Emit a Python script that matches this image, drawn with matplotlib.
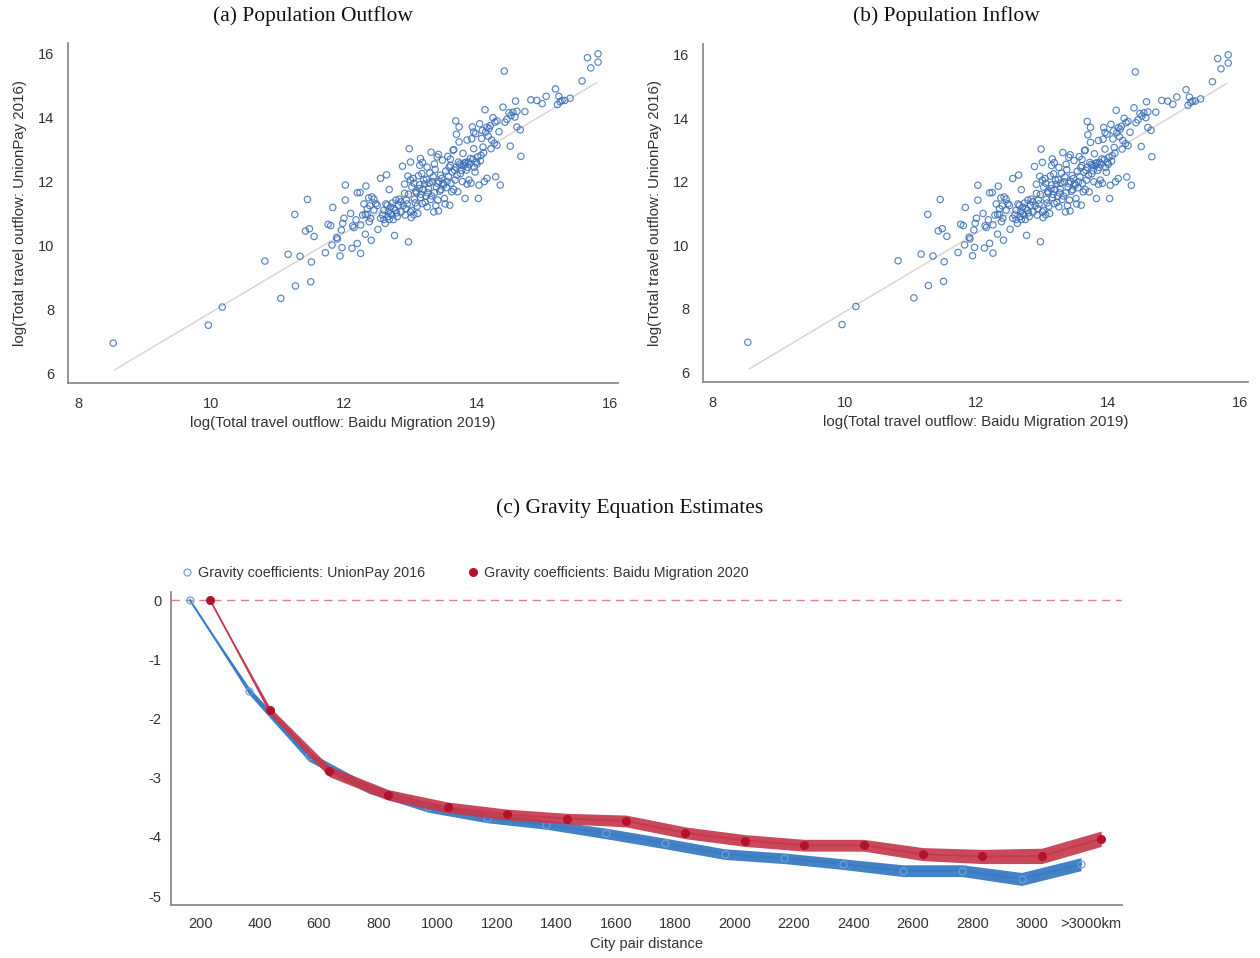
import numpy as np
import matplotlib
matplotlib.use("Agg")
import matplotlib.pyplot as plt
from matplotlib.lines import Line2D

plt.rcParams['font.family'] = ['Liberation Sans', 'DejaVu Sans']

# ---------------- Data: scatter (log travel flows) ----------------
baidu_x = [8.53, 9.96, 10.17, 10.81, 11.05, 11.16, 11.26, 11.27, 11.34, 11.45, 11.42, 11.48, 11.51, 11.50,
           11.55, 11.72, 11.76, 11.80, 11.82, 11.83, 11.89, 11.94, 11.96, 11.98, 11.97, 12.02, 12.02, 12.12,
           12.13, 12.15, 12.20, 12.20, 12.24, 12.25, 12.25, 12.32, 12.33, 12.32, 12.35, 12.37, 12.38, 12.39,
           12.41, 12.42, 12.45, 12.48, 12.51, 12.55, 12.58, 12.60, 12.64, 12.62, 12.65, 12.67, 12.68, 12.68,
           12.70, 12.73, 12.74, 12.75, 12.76, 12.78, 12.79, 12.82, 12.85, 12.88, 12.91, 12.91, 12.93, 12.94,
           12.96, 12.97, 12.98, 13.00, 13.00, 13.01, 13.02, 13.04, 13.05, 13.07, 13.09, 13.10, 13.12, 13.13,
           13.14, 13.15, 13.15, 13.17, 13.18, 13.19, 13.21, 13.23, 13.24, 13.25, 13.27, 13.29, 13.30, 13.31,
           13.33, 13.35, 13.36, 13.37, 13.39, 13.40, 13.41, 13.42, 13.43, 13.45, 13.46, 13.48, 13.49, 13.51,
           13.53, 13.54, 13.56, 13.57, 13.59, 13.60, 13.62, 13.64, 13.66, 13.67, 13.68, 13.69, 13.71, 13.72,
           13.73, 13.73, 13.75, 13.76, 13.78, 13.79, 13.81, 13.82, 13.84, 13.85, 13.87, 13.88, 13.90, 13.92,
           13.93, 13.95, 13.96, 13.98, 13.99, 14.01, 14.02, 14.03, 14.04, 14.06, 14.08, 14.09, 14.11, 14.12,
           14.15, 14.17, 14.18, 14.21, 14.24, 14.26, 14.27, 14.28, 14.30, 14.33, 14.35, 14.39, 14.41, 14.42,
           14.48, 14.50, 14.51, 14.54, 14.57, 14.58, 14.60, 14.65, 14.66, 14.72, 14.81, 14.90, 14.98, 15.04,
           15.18, 15.21, 15.23, 15.25, 15.28, 15.32, 15.40, 15.58, 15.66, 15.71, 15.82, 15.82,
           12.55, 12.60, 12.63, 12.66, 12.70, 12.72, 12.77, 12.80, 12.83, 12.86, 12.89, 12.92, 12.95, 12.97,
           13.02, 13.06, 13.08, 13.11, 13.14, 13.16, 13.20, 13.22, 13.26, 13.28, 13.32, 13.34, 13.38, 13.40,
           13.44, 13.47, 13.50, 13.52, 13.55, 13.58, 13.61, 13.63, 13.65, 13.68, 13.70, 13.74, 13.77, 13.80,
           13.83, 13.86, 13.89, 13.91, 13.94, 13.97, 14.00, 14.05, 14.07, 14.10, 14.13, 14.20, 14.22, 12.35,
           12.40, 12.45, 12.50, 12.28, 12.30, 13.00, 13.05, 13.18, 13.25, 13.36, 13.42, 13.60, 13.65, 13.85,
           13.95, 14.15, 14.30, 14.45, 14.60, 12.10, 12.18, 11.90, 12.00]
unionpay_y = [6.94, 7.50, 8.07, 9.51, 8.34, 9.72, 10.97, 8.73, 9.66, 11.44, 10.45, 10.52, 9.48, 8.86,
              10.28, 9.77, 10.66, 10.62, 10.01, 11.19, 10.25, 9.67, 10.48, 10.69, 9.93, 11.42, 11.89, 9.91,
              10.61, 10.56, 10.06, 11.65, 11.66, 9.75, 10.64, 10.97, 11.86, 10.35, 10.97, 11.49, 10.74, 11.24,
              10.16, 11.52, 11.11, 11.31, 10.50, 12.10, 10.95, 10.81, 12.21, 10.69, 11.26, 11.05, 10.81, 11.75,
              11.00, 11.33, 10.81, 11.15, 10.31, 11.42, 11.02, 11.26, 11.37, 12.48, 11.63, 11.92, 11.15, 11.42,
              12.17, 10.11, 13.03, 12.61, 11.05, 10.87, 11.83, 12.10, 10.96, 11.33, 11.65, 11.23, 12.18, 11.78,
              12.51, 11.50, 12.72, 12.25, 11.31, 11.75, 11.92, 11.54, 12.07, 11.21, 11.78, 12.27, 11.44, 12.92,
              12.00, 11.05, 11.65, 12.38, 11.83, 12.77, 11.42, 11.08, 12.00, 12.20, 11.75, 12.67, 11.95, 11.47,
              12.33, 11.81, 12.79, 12.15, 11.26, 12.51, 11.68, 12.98, 12.36, 12.05, 13.90, 13.48, 11.68, 12.61,
              13.24, 13.71, 12.25, 12.51, 12.00, 12.88, 12.58, 11.47, 12.36, 11.92, 12.61, 12.05, 12.72, 13.34,
              13.71, 13.03, 12.45, 13.50, 12.61, 12.77, 11.47, 11.89, 13.81, 12.82, 13.60, 13.08, 12.00, 14.25,
              12.10, 13.42, 13.66, 13.03, 14.00, 13.20, 13.86, 12.15, 13.14, 13.56, 11.89, 14.33, 15.46, 13.86,
              14.15, 13.11, 14.07, 14.17, 14.02, 14.52, 13.71, 13.62, 12.79, 14.19, 14.56, 14.54, 14.44, 14.67,
              14.90, 14.41, 14.67, 14.50, 14.54, 14.54, 14.61, 15.15, 15.88, 15.56, 16.00, 15.74,
              10.85, 11.10, 11.30, 10.90, 11.20, 10.95, 11.10, 10.90, 11.45, 11.05, 11.25, 10.95, 11.30, 11.60,
              11.10, 11.45, 11.70, 11.00, 11.90, 11.60, 12.05, 11.35, 11.65, 11.95, 11.55, 12.15, 11.25, 11.95,
              11.70, 12.10, 11.90, 11.30, 12.00, 12.45, 11.95, 12.30, 11.75, 12.45, 12.20, 12.55, 12.35, 12.50,
              12.60, 12.45, 12.55, 11.95, 12.70, 12.30, 12.55, 12.65, 13.35, 12.90, 13.55, 13.75, 13.30, 11.15,
              10.85, 11.45, 11.25, 10.95, 11.30, 12.05, 11.95, 12.60, 12.45, 12.55, 12.85, 12.70, 13.00, 13.30,
              13.55, 13.70, 13.90, 13.95, 14.20, 11.00, 10.80, 10.20, 10.85]

# fitted line: y = fit_intercept + fit_slope * x over fit_range
fit_slope = 1.241
fit_intercept = -4.51
fit_range = [8.55, 15.8]

# ---------------- Data: gravity coefficients ----------------
dist_labels = ["200", "400", "600", "800", "1000", "1200", "1400", "1600", "1800", "2000",
               "2200", "2400", "2600", "2800", "3000", ">3000km"]
unionpay_coef = [0.0, -1.54, -2.64, -3.18, -3.50, -3.68, -3.79, -3.94, -4.11, -4.29,
                 -4.36, -4.46, -4.57, -4.57, -4.71, -4.46]
unionpay_hw = [0.0, 0.06, 0.08, 0.08, 0.08, 0.08, 0.08, 0.09, 0.09, 0.09,
               0.09, 0.09, 0.10, 0.10, 0.11, 0.11]
baidu_coef = [0.0, -1.86, -2.89, -3.29, -3.50, -3.62, -3.69, -3.73, -3.93, -4.06,
              -4.14, -4.14, -4.29, -4.33, -4.32, -4.03]
baidu_hw = [0.0, 0.06, 0.09, 0.09, 0.09, 0.09, 0.09, 0.10, 0.10, 0.10,
            0.10, 0.10, 0.11, 0.12, 0.13, 0.13]

# ---------------- Figure ----------------
W, H = 1260, 958
fig = plt.figure(figsize=(W / 100, H / 100), dpi=100)

spine_col = '#8c8c8c'
txt_col = '#333333'
scatter_col = '#3a6fb8'
serif = ['Liberation Serif', 'DejaVu Serif']


def style_axes(ax, pad):
    for s in ['top', 'right']:
        ax.spines[s].set_visible(False)
    for s in ['left', 'bottom']:
        ax.spines[s].set_color(spine_col)
        ax.spines[s].set_linewidth(1.3)
    ax.tick_params(length=0, pad=pad, labelsize=10.5, labelcolor=txt_col)


def scatter_panel(rect, title, title_x):
    ax = fig.add_axes(rect)
    xs = np.array(fit_range)
    ax.plot(xs, fit_intercept + fit_slope * xs, color='#d8d2d0', lw=1.0, zorder=1)
    ax.scatter(baidu_x, unionpay_y, s=21, facecolors='none', edgecolors=scatter_col,
               linewidths=0.85, alpha=0.85, zorder=2)
    ax.set_xlim(7.85, 16.12)
    ax.set_ylim(5.69, 16.34)
    ax.set_xticks([8, 10, 12, 14, 16])
    ax.set_yticks([6, 8, 10, 12, 14, 16])
    style_axes(ax, 10)
    ax.set_xlabel('log(Total travel outflow: Baidu Migration 2019)', fontsize=10.8,
                  color=txt_col, labelpad=4)
    ax.set_ylabel('log(Total travel outflow: UnionPay 2016)', fontsize=10.8,
                  color=txt_col, labelpad=8)
    fig.text(title_x / W, 1 - 16 / H, title, ha='center', va='center',
             fontsize=15.5, family=serif, color='#111111')
    return ax


ax1 = scatter_panel([68 / W, 1 - 383 / H, 550 / W, 340 / H], '(a) Population Outflow', 313)
ax2 = scatter_panel([703 / W, 1 - 382 / H, 545 / W, 338 / H], '(b) Population Inflow', 946)

# ---------------- Gravity panel ----------------
ax3 = fig.add_axes([171 / W, 1 - 905 / H, 951 / W, 313 / H])
idx = np.arange(len(dist_labels))
off = 0.17
blue_band = '#3a7bc3'
blue_pt = '#6f9fd6'
red_band = '#c6394c'
red_pt = '#b3122c'

ax3.axhline(0, color='#e07f8c', lw=1.0, ls=(0, (6, 4)), zorder=1)

xb = idx - off
ub = np.array(unionpay_coef)
hb = np.array(unionpay_hw)
ax3.fill_between(xb, ub - hb, ub + hb, color=blue_band, alpha=0.95, lw=0, zorder=2)
ax3.plot(xb, ub, color=blue_band, lw=1.5, zorder=3)
ax3.plot(xb, ub, ls='none', marker='o', ms=5, mfc='none', mec=blue_pt, mew=0.9, zorder=4)

xr = idx + off
ur = np.array(baidu_coef)
hr = np.array(baidu_hw)
ax3.fill_between(xr, ur - hr, ur + hr, color=red_band, alpha=0.92, lw=0, zorder=5)
ax3.plot(xr, ur, color=red_band, lw=1.3, zorder=6)
ax3.plot(xr, ur, ls='none', marker='o', ms=5.5, mfc=red_pt, mec=red_pt, zorder=7)

ax3.set_xlim(-0.49, 15.52)
ax3.set_ylim(-5.15, 0.14)
ax3.set_xticks(idx)
ax3.set_xticklabels(dist_labels)
ax3.set_yticks([0, -1, -2, -3, -4, -5])
ax3.set_yticklabels(['0', '-1', '-2', '-3', '-4', '-5'])
style_axes(ax3, 7)
ax3.tick_params(axis='x', pad=9)
ax3.set_xlabel('City pair distance', fontsize=10.5, color=txt_col, labelpad=4)

handles = [Line2D([], [], ls='none', marker='o', ms=5, mfc='none', mec=blue_pt, mew=0.9),
           Line2D([], [], ls='none', marker='o', ms=5.5, mfc=red_pt, mec=red_pt)]
ax3.legend(handles, ['Gravity coefficients: UnionPay 2016', 'Gravity coefficients: Baidu Migration 2020'],
           loc='lower left', bbox_to_anchor=(0.0, 1.01), ncol=2, frameon=False, fontsize=10.3,
           handletextpad=0.3, columnspacing=2.8, handlelength=1.0, borderaxespad=0.2,
           labelcolor=txt_col)

fig.text(630 / W, 1 - 508 / H, '(c) Gravity Equation Estimates', ha='center', va='center',
         fontsize=15.5, family=serif, color='#111111')

fig.savefig('out.png', dpi=100)
